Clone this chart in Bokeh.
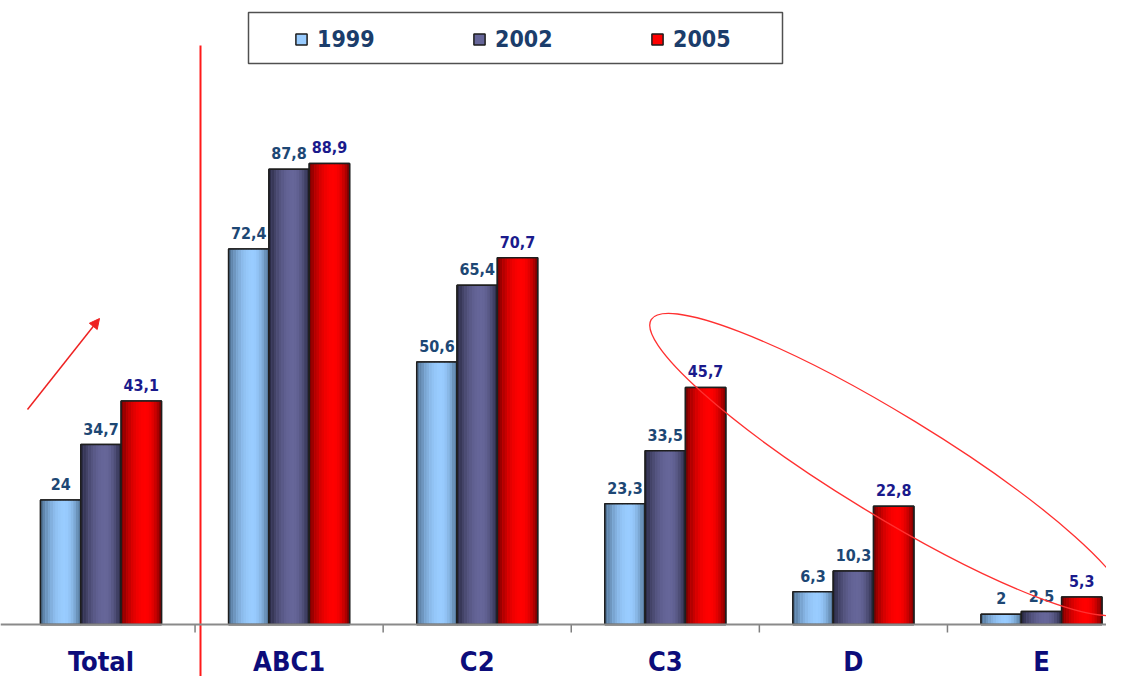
from bokeh.plotting import figure
from bokeh.models import (Range1d, Legend, LegendItem, ColumnDataSource,
                          BoxAnnotation, Arrow, NormalHead, Span)
from bokeh.core.properties import value
from bokeh.embed import file_html
from bokeh.resources import INLINE

# ---------------- data ----------------
categories = ["Total", "ABC1", "C2", "C3", "D", "E"]
years = ["1999", "2002", "2005"]
v1999 = [24, 72.4, 50.6, 23.3, 6.3, 2]
v2002 = [34.7, 87.8, 65.4, 33.5, 10.3, 2.5]
v2005 = [43.1, 88.9, 70.7, 45.7, 22.8, 5.3]
series = [v1999, v2002, v2005]

# ---------------- styles ----------------
FONT = "DejaVu Sans Condensed"
base_colors = ["#99ccff", "#666699", "#ff0000"]
edge_colors = ["#4a6a8a", "#26263e", "#720000"]
label_colors = ["#1d4774", "#1d4774", "#1a1a8c"]
bar_w = 0.2143
offsets = [-bar_w, 0.0, bar_w]

W, H = 1106, 676
ppu_y = 5.186          # pixels per value unit
base_px = 624          # baseline position from top
ppu_x = 188.1          # pixels per category
x_start = -100.5 / ppu_x
x_end = x_start + W / ppu_x
y_end = base_px / ppu_y
y_start = -(H - base_px) / ppu_y

p = figure(width=W, height=H, output_backend="svg", toolbar_location=None,
           x_range=Range1d(x_start, x_end), y_range=Range1d(y_start, y_end),
           x_axis_location=None, y_axis_location=None, min_border=0,
           background_fill_color="white", border_fill_color="white",
           outline_line_color=None)
p.xgrid.visible = False
p.ygrid.visible = False

idx = list(range(len(categories)))


def hex2rgb(h):
    h = h.lstrip("#")
    return [int(h[i:i + 2], 16) for i in (0, 2, 4)]


def mix(a, b, f):
    a, b = hex2rgb(a), hex2rgb(b)
    return "#%02x%02x%02x" % tuple(int(round(a[i] + (b[i] - a[i]) * f)) for i in range(3))


# baseline (category axis line) and category ticks
p.add_layout(Span(location=0, dimension="width", line_color="#8a8a8a", line_width=2))
tick_len = 8 / ppu_y
p.segment(x0=[i + 0.5 for i in idx[:-1]], y0=[0] * (len(idx) - 1),
          x1=[i + 0.5 for i in idx[:-1]], y1=[-tick_len] * (len(idx) - 1),
          line_color="#7f7f7f", line_width=1.5)

n_strips = 16
legend_items = []
for s, vals in enumerate(series):
    xs = [i + offsets[s] for i in idx]
    src = ColumnDataSource(dict(x=xs, top=vals))
    base = p.vbar(x="x", top="top", width=bar_w, bottom=0, source=src,
                  fill_color=base_colors[s], line_color="#1e1e1e", line_width=1.5)
    legend_items.append(LegendItem(label=years[s], renderers=[base]))
    # cylindrical shading
    for k in range(n_strips):
        t = (k + 0.5) / n_strips
        peak = 0.6
        u = (t - peak) / peak if t < peak else (t - peak) / (1 - peak)
        f = 1 - abs(u) ** 2.0
        col = mix(edge_colors[s], base_colors[s], max(0.0, f))
        sx = [x + (-0.5 + t) * bar_w for x in xs]
        p.vbar(x=sx, top=vals, width=bar_w / n_strips * 1.05, bottom=0,
               fill_color=col, line_color=None)
    p.vbar(x="x", top="top", width=bar_w, bottom=0, source=src,
           fill_alpha=0, line_color="#1e1e1e", line_width=1.5)
    txt = [("%g" % v).replace(".", ",") for v in vals]
    p.text(x=xs, y=vals, text=txt, text_align="center", text_baseline="middle",
           y_offset=-16, text_font=value(FONT), text_font_style="bold",
           text_font_size="16px", text_color=label_colors[s])

# category labels
label_y = -(661 - base_px) / ppu_y
p.text(x=idx, y=[label_y] * len(idx), text=categories, text_align="center",
       text_baseline="middle", text_font=value(FONT), text_font_style="bold",
       text_font_size="27px", text_color="#0c0c7a")

# ---------------- annotations ----------------
# vertical separator
p.segment(x0=[0.529], y0=[111.65], x1=[0.529], y1=[y_start - 5],
          line_color="#ff1a1a", line_width=2)
# trend arrow
p.add_layout(Arrow(end=NormalHead(size=10, fill_color="#ee2222", line_color="#ee2222"),
                   x_start=-0.3908, y_start=41.46, x_end=-0.008, y_end=59.0,
                   line_color="#ee2222", line_width=1.5))
# ellipse highlight
p.ellipse(x=[4.1865], y=[30.85], width=[556], height=[101], angle=[-0.548],
          width_units="screen", height_units="screen",
          fill_color=None, line_color="#ff3030", line_width=1.3)

# legend box
p.add_layout(BoxAnnotation(left=248, right=782, top=H - 12, bottom=H - 63,
                           left_units="screen", right_units="screen",
                           top_units="screen", bottom_units="screen",
                           fill_alpha=0, line_color="#505050", line_width=1.5,
                           line_alpha=1))

legend = Legend(items=legend_items, orientation="horizontal",
                location=(294, H - 51.5), padding=8, margin=0, spacing=95,
                label_standoff=9, glyph_width=14, glyph_height=14, label_width=60,
                label_text_font=FONT, label_text_font_style="bold",
                label_text_font_size="23px", label_text_color="#1b3d6b",
                border_line_color=None, background_fill_alpha=0)
p.add_layout(legend)

open("out.html", "w").write(file_html(p, INLINE))
